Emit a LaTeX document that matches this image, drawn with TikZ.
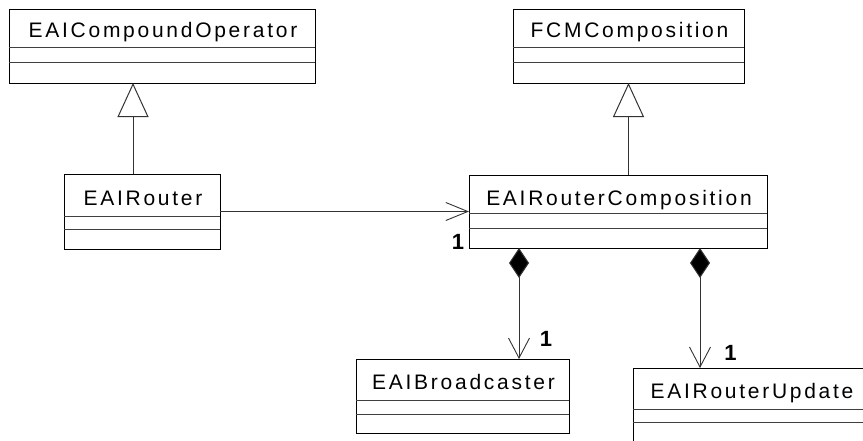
\documentclass[tikz,border=0pt]{standalone}
\usepackage{fontspec}
\setmainfont{Liberation Sans}
\newfontfamily\clsfont{Liberation Sans}[LetterSpace=13]
\usetikzlibrary{arrows.meta,calc}
\begin{document}
\begin{tikzpicture}[x=1pt,y=-1pt,line width=1pt,
  cls/.style={draw=black,fill=white,rectangle,inner sep=0pt,outer sep=0pt,anchor=north west},
  clsname/.style={inner sep=0pt,anchor=base,font=\clsfont\fontsize{21}{24}\selectfont},
  mult/.style={inner sep=0pt,anchor=base,font=\bfseries\fontsize{22}{24}\selectfont},
  sep/.style={draw=black!75},
  gen/.style={draw=black!80,-{Triangle[open,length=34pt,width=31pt,fill=white]}},
  assoc/.style={draw=black!80,-{Straight Barb[length=22pt,width=18pt,line width=0.9pt]}},
  comp/.style={draw=black!80,{Diamond[length=30pt,width=20pt,fill=black]}-{Straight Barb[length=20pt,width=21pt,line width=0.9pt]}}
]
\path[use as bounding box,fill=white] (0,0) rectangle (863,440);
\clip (0,0) rectangle (863,440);

% classes
\node[cls,minimum width=306pt,minimum height=74pt] (co) at (9,9) {};
\node[clsname] (cot) at ([yshift=-28pt,xshift=1pt]co.north) {EAICompoundOperator};
\draw[sep] ([yshift=-38pt]co.north west) -- ([yshift=-38pt]co.north east);
\draw[sep] ([yshift=-53pt]co.north west) -- ([yshift=-53pt]co.north east);

\node[cls,minimum width=231pt,minimum height=74pt] (fcm) at (513,9) {};
\node[clsname] (fcmt) at ([yshift=-28pt,xshift=1pt]fcm.north) {FCMComposition};
\draw[sep] ([yshift=-38pt]fcm.north west) -- ([yshift=-38pt]fcm.north east);
\draw[sep] ([yshift=-53pt]fcm.north west) -- ([yshift=-53pt]fcm.north east);

\node[cls,minimum width=156pt,minimum height=75pt] (router) at (64,174) {};
\node[clsname] (routert) at ([yshift=-31pt,xshift=1pt]router.north) {EAIRouter};
\draw[sep] ([yshift=-42pt]router.north west) -- ([yshift=-42pt]router.north east);
\draw[sep] ([yshift=-55pt]router.north west) -- ([yshift=-55pt]router.north east);

\node[cls,minimum width=298pt,minimum height=73pt] (rc) at (469,175) {};
\node[clsname] (rct) at ([yshift=-30pt,xshift=1pt]rc.north) {EAIRouterComposition};
\draw[sep] ([yshift=-38pt]rc.north west) -- ([yshift=-38pt]rc.north east);
\draw[sep] ([yshift=-53pt]rc.north west) -- ([yshift=-53pt]rc.north east);

\node[cls,minimum width=213pt,minimum height=74pt] (bc) at (356,359) {};
\node[clsname] (bct) at ([yshift=-30pt,xshift=1pt]bc.north) {EAIBroadcaster};
\draw[sep] ([yshift=-41pt]bc.north west) -- ([yshift=-41pt]bc.north east);
\draw[sep] ([yshift=-55pt]bc.north west) -- ([yshift=-55pt]bc.north east);

\node[cls,minimum width=236pt,minimum height=82pt] (ru) at (633,368) {};
\node[clsname] (rut) at ([yshift=-30pt,xshift=1pt]ru.north) {EAIRouterUpdate};
\draw[sep] ([yshift=-41pt]ru.north west) -- ([yshift=-41pt]ru.north east);
\draw[sep] ([yshift=-54pt]ru.north west) -- ([yshift=-54pt]ru.north east);

% generalizations
\coordinate (g1) at ([xshift=69pt]router.north west);
\draw[gen] (g1) -- (g1 |- co.south);
\draw[gen] (fcm.south |- rc.north) -- (fcm.south);

% association
\draw[assoc] (router.east) -- (rc.west);
\node[mult] (m0) at (458,249) {1};

% compositions
\coordinate (c1) at ([xshift=50pt]rc.south west);
\coordinate (c2) at ([xshift=231pt]rc.south west);
\draw[comp] (c1) -- (c1 |- bc.north);
\draw[comp] (c2) -- (c2 |- ru.north);
\node[mult] (m1) at (546,346) {1};
\node[mult] (m2) at (730.5,360) {1};
\end{tikzpicture}
\end{document}
